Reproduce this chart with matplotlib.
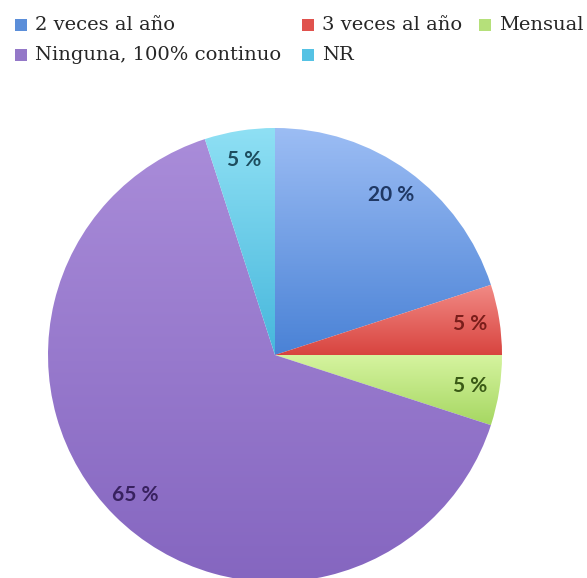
import numpy as np
import matplotlib
matplotlib.use("Agg")
import matplotlib.pyplot as plt
from matplotlib.colors import LinearSegmentedColormap
from matplotlib.patches import Rectangle

# pie data, clockwise from 12 o'clock
categories = ["2 veces al año", "3 veces al año", "Mensual", "Ninguna, 100% continuo", "NR"]
values = [20, 5, 5, 65, 5]

# (light top, dark bottom) gradient colours per slice, and label colour
top_colors = ["#9cbdf4", "#f28b86", "#d6f4a0", "#a98cd9", "#8fe0f4"]
bottom_colors = ["#4a82d6", "#d8443f", "#a6d762", "#8566c0", "#46b7dc"]
legend_colors = ["#5b8ed9", "#e0524d", "#b5e07a", "#9478c8", "#55c2e4"]
label_colors = ["#1f3864", "#7a1e1b", "#3a5a16", "#38215f", "#1d4d5e"]

W, H = 587, 578
fig = plt.figure(figsize=(W / 100, H / 100), dpi=100)
ax = fig.add_axes([0, 0, 1, 1])

cx, cy, r = 275, H - 355, 227
wedges, _, autotexts = ax.pie(values, startangle=90, counterclock=False,
                              center=(cx, cy), radius=r,
                              autopct=lambda p: f"{p:.0f} %", pctdistance=0.87,
                              wedgeprops=dict(linewidth=0))

grad = np.linspace(1, 0, 256).reshape(-1, 1)
for w, top, bot in zip(wedges, top_colors, bottom_colors):
    ext = w.get_path().get_extents()
    cmap = LinearSegmentedColormap.from_list("g", [bot, top])
    w.set_facecolor("none")
    im = ax.imshow(grad[::-1], cmap=cmap, aspect="auto", origin="lower",
                   extent=[ext.x0, ext.x1, ext.y0, ext.y1], zorder=1)
    im.set_clip_path(w)

for t, c in zip(autotexts, label_colors):
    t.set_color(c)
    t.set_fontfamily("Lato")
    t.set_fontweight("bold")
    t.set_fontsize(15)
    t.set_zorder(3)

# legend laid out in a 3-column grid like the original
leg_pos = [(15, 25), (302, 25), (479, 25), (15, 55), (302, 55)]
for (x, y), lab, col in zip(leg_pos, categories, legend_colors):
    ax.add_patch(Rectangle((x, H - y - 6), 12, 12, facecolor=col, edgecolor="none", zorder=3))
    ax.text(x + 20, H - y, lab, fontsize=14, family="DejaVu Serif", color="#262626",
            va="center", ha="left")

ax.set_xlim(0, W)
ax.set_ylim(0, H)
ax.set_aspect("equal")
ax.axis("off")

fig.savefig("out.png", dpi=100)
